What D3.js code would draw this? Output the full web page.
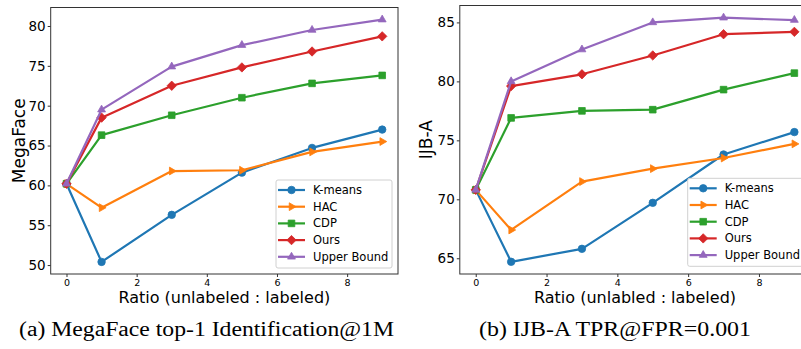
<!DOCTYPE html>
<html>
<head>
<meta charset="utf-8">
<script src="https://cdn.jsdelivr.net/npm/d3@7"></script>
<style>
  body { margin: 0; background: #fff; }
  text { font-family: "DejaVu Sans", sans-serif; fill: #000; }
  .caption { font-family: "Liberation Serif", "Times New Roman", serif; }
</style>
</head>
<body>
<div id="chart"></div>
<script>
// x values shared by both panels
const ratios = [0, 1, 3, 5, 7, 9];
const methods = ["K-means", "HAC", "CDP", "Ours", "Upper Bound"];
const colors = ["#1f77b4", "#ff7f0e", "#2ca02c", "#d62728", "#9467bd"];
const markers = ["circle", "right", "square", "diamond", "up"];

// (a) MegaFace top-1 identification
const megaKmeans = [60.2, 50.4, 56.3, 61.6, 64.7, 67.0];
const megaHac    = [60.2, 57.2, 61.8, 61.9, 64.2, 65.5];
const megaCdp    = [60.2, 66.3, 68.8, 71.0, 72.8, 73.8];
const megaOurs   = [60.2, 68.5, 72.5, 74.8, 76.8, 78.7];
const megaUpper  = [60.2, 69.5, 74.9, 77.6, 79.5, 80.8];

// (b) IJB-A TPR@FPR=0.001
const ijbKmeans = [70.8, 64.7, 65.8, 69.7, 73.8, 75.7];
const ijbHac    = [70.8, 67.4, 71.5, 72.6, 73.5, 74.7];
const ijbCdp    = [70.8, 76.9, 77.5, 77.6, 79.3, 80.7];
const ijbOurs   = [70.8, 79.6, 80.6, 82.2, 84.0, 84.2];
const ijbUpper  = [70.8, 80.0, 82.7, 85.0, 85.4, 85.2];

const xTicks = [0, 2, 4, 6, 8];
const megaTicks = [50, 55, 60, 65, 70, 75, 80];
const ijbTicks = [65, 70, 75, 80, 85];

const width = 801, height = 349;

const svg = d3.select("#chart")
  .append("svg")
  .attr("width", width)
  .attr("height", height);

const symbolFor = {
  circle: d3.symbol().type(d3.symbolCircle).size(44),
  square: d3.symbol().type(d3.symbolSquare).size(44),
  diamond: d3.symbol().type(d3.symbolDiamond2).size(56),
  up: d3.symbol().type(d3.symbolTriangle2).size(44),
  right: d3.symbol().type(d3.symbolTriangle2).size(44)
};

function drawMarker(g, kind, color, x, y) {
  g.append("path")
    .attr("d", symbolFor[kind]())
    .attr("transform", `translate(${x},${y})` + (kind === "right" ? " rotate(90)" : ""))
    .attr("fill", color)
    .attr("stroke", color)
    .attr("stroke-width", 0.8);
}

function drawPanel(p) {
  const g = svg.append("g");

  // matplotlib style 5% margins
  const all = p.series.flat();
  const [lo, hi] = d3.extent(all);
  const pad = (hi - lo) * 0.05;
  const x = d3.scaleLinear().domain([-0.45, 9.45]).range([p.left, p.right]);
  const y = d3.scaleLinear().domain([lo - pad, hi + pad]).range([p.bottom, p.top]);

  const clip = "clip" + p.id;
  svg.append("clipPath").attr("id", clip)
    .append("rect")
    .attr("x", p.left).attr("y", p.top)
    .attr("width", p.right - p.left).attr("height", p.bottom - p.top);

  const plot = g.append("g").attr("clip-path", `url(#${clip})`);

  const line = d3.line()
    .x((d, i) => x(ratios[i]))
    .y(d => y(d));

  p.series.forEach((vals, k) => {
    plot.append("path")
      .datum(vals)
      .attr("d", line)
      .attr("fill", "none")
      .attr("stroke", colors[k])
      .attr("stroke-width", 2.2)
      .attr("stroke-linejoin", "round");
    vals.forEach((v, i) => drawMarker(plot, markers[k], colors[k], x(ratios[i]), y(v)));
  });

  // axes
  const xAxis = g.append("g")
    .attr("transform", `translate(0,${p.bottom})`)
    .call(d3.axisBottom(x).tickValues(xTicks).tickSize(3).tickPadding(2));
  xAxis.selectAll("text").style("font-size", "9.5px");

  const yAxis = g.append("g")
    .attr("transform", `translate(${p.left},0)`)
    .call(d3.axisLeft(y).tickValues(p.yTicks).tickSize(3).tickPadding(2));
  yAxis.selectAll("text").style("font-size", p.yFont + "px");

  [xAxis, yAxis].forEach(a => {
    a.select(".domain").remove();
    a.selectAll("line").attr("stroke", "#333");
  });

  g.append("rect")
    .attr("x", p.left).attr("y", p.top)
    .attr("width", p.right - p.left).attr("height", p.bottom - p.top)
    .attr("fill", "none")
    .attr("stroke", "#333")
    .attr("stroke-width", 1);

  // axis titles
  g.append("text")
    .attr("x", (p.left + p.right) / 2)
    .attr("y", 303)
    .attr("text-anchor", "middle")
    .style("font-size", "16px")
    .text(p.xLabel);

  g.append("text")
    .attr("transform", `translate(${p.yLabelX},${(p.top + p.bottom) / 2}) rotate(-90)`)
    .attr("text-anchor", "middle")
    .style("font-size", "17px")
    .text(p.yLabel);

  // legend
  const lg = g.append("g").attr("transform", `translate(${p.legendX},${p.legendY})`);
  lg.append("rect")
    .attr("width", 116).attr("height", 88)
    .attr("rx", 2)
    .attr("fill", "#fff")
    .attr("fill-opacity", 0.85)
    .attr("stroke", "#d0d0d0");
  methods.forEach((m, k) => {
    const ly = 10 + k * 16.7;
    lg.append("line")
      .attr("x1", 2).attr("x2", 29)
      .attr("y1", ly).attr("y2", ly)
      .attr("stroke", colors[k]).attr("stroke-width", 2.2);
    drawMarker(lg, markers[k], colors[k], 15.5, ly);
    lg.append("text")
      .attr("x", 37).attr("y", ly + 4)
      .style("font-size", "11.5px")
      .text(m);
  });

  svg.append("text")
    .attr("class", "caption")
    .attr("x", p.capX).attr("y", 336)
    .attr("textLength", p.capLen)
    .attr("lengthAdjust", "spacingAndGlyphs")
    .style("font-size", "20px")
    .text(p.caption);
}

drawPanel({
  id: "a",
  series: [megaKmeans, megaHac, megaCdp, megaOurs, megaUpper],
  left: 50.7, right: 398, top: 7.5, bottom: 274,
  yTicks: megaTicks, yFont: 13.5,
  yLabel: "MegaFace", yLabelX: 25,
  xLabel: "Ratio (unlabeled : labeled)",
  legendX: 276, legendY: 180,
  caption: "(a) MegaFace top-1 Identification@1M", capX: 19, capLen: 375
});

drawPanel({
  id: "b",
  series: [ijbKmeans, ijbHac, ijbCdp, ijbOurs, ijbUpper],
  left: 459.8, right: 810.3, top: 5.5, bottom: 274,
  yTicks: ijbTicks, yFont: 13.5,
  yLabel: "IJB-A", yLabelX: 432,
  xLabel: "Ratio (unlabled : labeled)",
  legendX: 687.7, legendY: 178.3,
  caption: "(b) IJB-A TPR@FPR=0.001", capX: 479, capLen: 272
});
</script>
</body>
</html>
